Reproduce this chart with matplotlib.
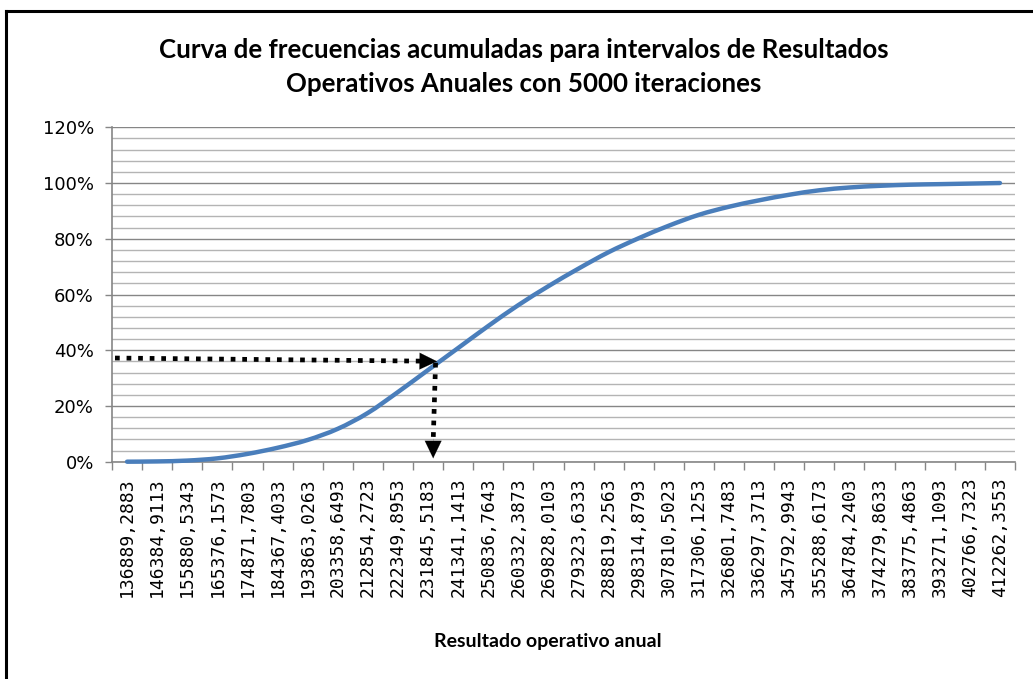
import matplotlib
matplotlib.use("Agg")
import matplotlib.pyplot as plt
from matplotlib.lines import Line2D
from matplotlib.path import Path
from matplotlib.patches import PathPatch
from matplotlib.ticker import MultipleLocator, FuncFormatter, FixedLocator

# ---- data ----
categories = [
    "136889,2883", "146384,9113", "155880,5343", "165376,1573", "174871,7803",
    "184367,4033", "193863,0263", "203358,6493", "212854,2723", "222349,8953",
    "231845,5183", "241341,1413", "250836,7643", "260332,3873", "269828,0103",
    "279323,6333", "288819,2563", "298314,8793", "307810,5023", "317306,1253",
    "326801,7483", "336297,3713", "345792,9943", "355288,6173", "364784,2403",
    "374279,8633", "383775,4863", "393271,1093", "402766,7323", "412262,3553",
]
cum_freq = [
    0.000, 0.001, 0.004, 0.012, 0.028, 0.050, 0.078, 0.118, 0.175, 0.250,
    0.329, 0.408, 0.487, 0.562, 0.630, 0.693, 0.752, 0.802, 0.847, 0.886,
    0.915, 0.938, 0.958, 0.974, 0.984, 0.990, 0.994, 0.996, 0.998, 1.000,
]
y_ticks = [0.0, 0.2, 0.4, 0.6, 0.8, 1.0, 1.2]

# annotation: reading the curve near 36-37%
arrow_start = (-0.4, 0.372)
arrow_corner = (10.30, 0.360)
arrow_bottom = (10.17, 0.012)

title = "Curva de frecuencias acumuladas para intervalos de Resultados\nOperativos Anuales con 5000 iteraciones"
xlabel = "Resultado operativo anual"

W, H = 1033, 679
fig = plt.figure(figsize=(W / 100, H / 100), dpi=100)
fig.patch.set_facecolor("white")
ax = fig.add_axes([112 / W, 1 - 461.7 / H, (1015 - 112) / W, (461.7 - 127.3) / H])

x = list(range(len(categories)))

# smoothed line (Excel-style smooth curve) drawn as cubic Bezier path through the data
verts = [(x[0], cum_freq[0])]
codes = [Path.MOVETO]
n = len(x)
for i in range(n - 1):
    p0 = (x[max(i - 1, 0)], cum_freq[max(i - 1, 0)])
    p1 = (x[i], cum_freq[i])
    p2 = (x[i + 1], cum_freq[i + 1])
    p3 = (x[min(i + 2, n - 1)], cum_freq[min(i + 2, n - 1)])
    c1 = (p1[0] + (p2[0] - p0[0]) / 6, p1[1] + (p2[1] - p0[1]) / 6)
    c2 = (p2[0] - (p3[0] - p1[0]) / 6, p2[1] - (p3[1] - p1[1]) / 6)
    verts += [c1, c2, p2]
    codes += [Path.CURVE4] * 3
ax.add_patch(PathPatch(Path(verts, codes), facecolor="none", edgecolor="#4a7ebb",
                       lw=3.2, capstyle="round", zorder=3, clip_on=False))

ax.set_xlim(-0.5, len(categories) - 0.5)
ax.set_ylim(0, 1.2)

# grid
ax.yaxis.set_major_locator(FixedLocator(y_ticks))
ax.yaxis.set_minor_locator(MultipleLocator(0.04))
ax.grid(axis="y", which="major", color="#868686", lw=1.0, zorder=0)
ax.grid(axis="y", which="minor", color="#b4b4b4", lw=1.0, zorder=0)
ax.yaxis.set_major_formatter(FuncFormatter(lambda v, p: f"{v*100:.0f}%"))
ax.tick_params(axis="y", which="major", length=5, width=1, color="#868686",
               labelsize=13, pad=8, labelcolor="#000000")
ax.tick_params(axis="y", which="minor", length=0)

ax.set_xticks(x)
ax.set_xticklabels(categories, rotation=90, family="DejaVu Sans Mono", fontsize=13)
ax.set_xticks([i - 0.5 for i in range(len(categories) + 1)], minor=True)
ax.tick_params(axis="x", which="major", length=0, pad=11)
ax.tick_params(axis="x", which="minor", length=6, width=1, color="#868686")

for s in ["top", "right"]:
    ax.spines[s].set_visible(False)
for s in ["left", "bottom"]:
    ax.spines[s].set_color("#868686")
    ax.spines[s].set_linewidth(1.2)

# dotted arrows
dot = dict(color="black", lw=3.4, linestyle=(0, (1.0, 1.45)), dash_capstyle="butt")
head = dict(arrowstyle="-|>,head_length=1.25,head_width=0.6",
            color="black", lw=0.1, shrinkA=0, shrinkB=0)
ax.plot([arrow_start[0], arrow_corner[0] - 0.55],
        [arrow_start[1], arrow_corner[1] + 0.001], zorder=4, clip_on=False, **dot)
ax.annotate("", xy=arrow_corner, xytext=(arrow_corner[0] - 0.6, arrow_corner[1] + 0.001),
            arrowprops=head, zorder=5)
ax.plot([arrow_corner[0] - 0.05, arrow_bottom[0]],
        [arrow_corner[1] - 0.005, arrow_bottom[1] + 0.06], zorder=4, clip_on=False, **dot)
ax.annotate("", xy=arrow_bottom, xytext=(arrow_bottom[0], arrow_bottom[1] + 0.07),
            arrowprops=head, zorder=5)

fig.text(524 / W, 1 - 67 / H, title, ha="center", va="center", fontsize=18.6,
         fontweight="bold", family="Lato", linespacing=1.55)
fig.text(548 / W, 1 - 641 / H, xlabel, ha="center", va="center", fontsize=14,
         fontweight="bold", family="Lato")

# outer chart border (left and top visible)
fig.add_artist(Line2D([6 / W, 6 / W], [0, 1 - 11 / H], transform=fig.transFigure,
                      color="black", lw=2.2))
fig.add_artist(Line2D([6 / W, 1], [1 - 11 / H, 1 - 11 / H], transform=fig.transFigure,
                      color="black", lw=2.2))

fig.savefig("out.png", dpi=100, facecolor="white")
